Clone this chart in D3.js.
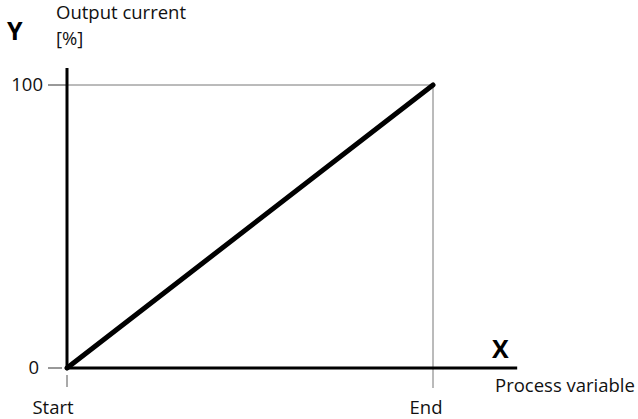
<!DOCTYPE html>
<html>
<head>
<meta charset="utf-8">
<script src="https://cdn.jsdelivr.net/npm/d3@7"></script>
<style>
  html, body { margin: 0; padding: 0; background: #fff; }
  svg { display: block; font-family: "Open Sans", sans-serif; }
</style>
</head>
<body>
<svg id="chart" width="638" height="419"></svg>
<script>
// Linear characteristic: output current versus process variable
const processVariable = [0, 100];      // Start .. End, in % of range
const outputCurrent = [0, 100];        // output current, %
const yTickValues = [0, 100];
const yTickLabels = ["0", "100"];
const xTickValues = [0, 100];
const xTickLabels = ["Start", "End"];

const svg = d3.select("#chart");
const fs = 18.5;

const x = d3.scaleLinear().domain([0, 100]).range([67, 433]);
const y = d3.scaleLinear().domain([0, 100]).range([368, 85]);

// Guide lines from the end point to both axes
svg.append("line")
  .attr("x1", x(0)).attr("x2", x(100))
  .attr("y1", y(100)).attr("y2", y(100))
  .attr("stroke", "#777").attr("stroke-width", 1);
svg.append("line")
  .attr("x1", x(100)).attr("x2", x(100))
  .attr("y1", y(100)).attr("y2", y(0) + 20)
  .attr("stroke", "#777").attr("stroke-width", 1);

// Y tick marks and labels
yTickValues.forEach((v, i) => {
  svg.append("line")
    .attr("x1", x(0) - 19).attr("x2", x(0) - (v === 0 ? 5 : 0))
    .attr("y1", y(v)).attr("y2", y(v))
    .attr("stroke", "#333").attr("stroke-width", 1);
  svg.append("text")
    .attr("x", x(0) - (v === 0 ? 28 : 24)).attr("y", y(v))
    .attr("dy", "0.35em")
    .attr("text-anchor", "end")
    .attr("font-size", fs)
    .attr("fill", "#111")
    .text(yTickLabels[i]);
});

// X tick marks and labels
xTickValues.forEach((v, i) => {
  if (v === 0) {
    svg.append("line")
      .attr("x1", x(v)).attr("x2", x(v))
      .attr("y1", y(0) + 7).attr("y2", y(0) + 19)
      .attr("stroke", "#555").attr("stroke-width", 1);
  }
  svg.append("text")
    .attr("x", x(v) + (v === 0 ? -14 : -7)).attr("y", y(0) + 46)
    .attr("text-anchor", "middle")
    .attr("font-size", fs)
    .attr("fill", "#111")
    .text(xTickLabels[i]);
});

// Axes
svg.append("line")
  .attr("x1", x(0)).attr("x2", x(0))
  .attr("y1", y(106)).attr("y2", y(0) + 1.5)
  .attr("stroke", "#000").attr("stroke-width", 3);
svg.append("line")
  .attr("x1", x(0) - 1.5).attr("x2", x(123))
  .attr("y1", y(0)).attr("y2", y(0))
  .attr("stroke", "#000").attr("stroke-width", 3);

// Characteristic line
const line = d3.line()
  .x((d, i) => x(processVariable[i]))
  .y((d, i) => y(outputCurrent[i]));
svg.append("path")
  .datum(processVariable)
  .attr("d", line)
  .attr("fill", "none")
  .attr("stroke", "#000")
  .attr("stroke-width", 5)
  .attr("stroke-linecap", "round");

// Axis titles
svg.append("text")
  .attr("x", 7).attr("y", 40)
  .attr("font-size", 25).attr("font-weight", "bold")
  .text("Y");
svg.append("text")
  .attr("x", 56).attr("y", 19)
  .attr("font-size", fs)
  .attr("fill", "#111")
  .text("Output current");
svg.append("text")
  .attr("x", 56).attr("y", 45)
  .attr("font-size", fs)
  .attr("fill", "#111")
  .text("[%]");
svg.append("text")
  .attr("x", 492).attr("y", 358)
  .attr("font-size", 25).attr("font-weight", "bold")
  .text("X");
svg.append("text")
  .attr("x", 495).attr("y", 392)
  .attr("font-size", fs)
  .attr("fill", "#111")
  .text("Process variable");
</script>
</body>
</html>
